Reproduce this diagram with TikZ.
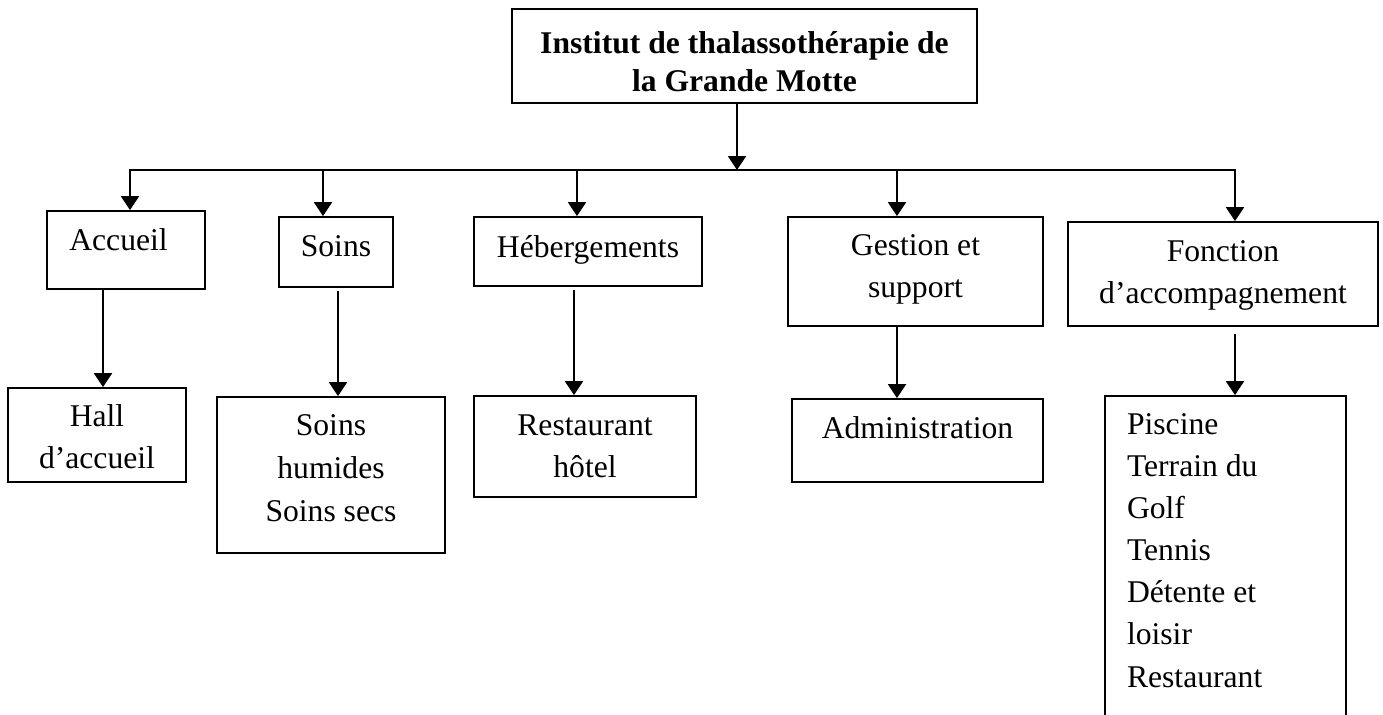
\documentclass[tikz,border=0pt]{standalone}
\usepackage{fontspec}
\setmainfont{Liberation Serif}
\usetikzlibrary{arrows.meta}
\tikzset{
  box/.style={draw,line width=1pt,align=center,inner sep=0pt,font=\fontsize{18}{23.5}\selectfont},
  head/.style={box,font=\fontsize{18}{22}\selectfont\bfseries},
  arr/.style={-{Triangle[length=0.28cm,width=0.36cm]},line width=1.1pt},
  rail/.style={line width=1.1pt,line cap=rect},
}

\begin{document}
\begin{tikzpicture}[x=0.02cm,y=-0.02cm]
\useasboundingbox (0,0) rectangle (1383,714);
% top of the chart
\node[head, minimum width=9.3cm, minimum height=1.88cm, text height=1.66cm, text depth=0.22cm] (titre) at (744.5,56) {Institut de thalassothérapie de\\la Grande Motte};
% services
\node[box, minimum width=3.16cm, minimum height=1.56cm, text height=0.78cm, text depth=0.78cm] (accueil) at (126,250) {Accueil\hspace{0.3cm}};
\node[box, minimum width=2.28cm, minimum height=1.4cm, text height=0.78cm, text depth=0.62cm] (soins) at (336,252) {Soins};
\node[box, minimum width=4.56cm, minimum height=1.38cm, text height=0.8cm, text depth=0.58cm] (heberg) at (588,251.5) {Hébergements};
\node[box, minimum width=5.1cm, minimum height=2.18cm, text height=1.6cm, text depth=0.58cm] (gestion) at (915.5,271.5) {Gestion et\\support};
\node[box, minimum width=6.2cm, minimum height=2.08cm, text height=1.62cm, text depth=0.46cm] (fonction) at (1223,274) {Fonction\\d’accompagnement};
% spaces under each service
\node[box, minimum width=3.56cm, minimum height=1.88cm, text height=1.6cm, text depth=0.28cm] (hall) at (97,435) {Hall\\d’accueil};
\node[box, minimum width=4.56cm, minimum height=3.12cm, text height=2.5cm, text depth=0.62cm, font=\fontsize{18}{24.5}\selectfont] (humides) at (331,475) {Soins\\humides\\Soins secs};
\node[box, minimum width=4.44cm, minimum height=2.02cm, text height=1.62cm, text depth=0.4cm] (resto) at (585,446.5) {Restaurant\\hôtel};
\node[box, minimum width=5.02cm, minimum height=1.66cm, text height=0.78cm, text depth=0.88cm] (admin) at (917.5,440.5) {Administration};
\node[box, align=flush left, text width=3.94cm, inner xsep=0.44cm, minimum height=6.68cm, text height=0.76cm, text depth=5.92cm, font=\fontsize{18}{24}\selectfont] (loisirs) at (1225.5,563) {Piscine\\Terrain du\\Golf\\Tennis\\Détente et\\loisir\\Restaurant};

\coordinate (bus) at (737,170);
\draw[arr] (titre.south -| bus) -- (bus);
\draw[rail] (bus -| 130,0) -- (bus -| 1235,0);
\draw[arr] (bus -| 130,0) -- (accueil.north -| 130,0);
\draw[arr] (bus -| 323,0) -- (soins.north -| 323,0);
\draw[arr] (bus -| 577,0) -- (heberg.north -| 577,0);
\draw[arr] (bus -| 897,0) -- (gestion.north -| 897,0);
\draw[arr] (bus -| 1235,0) -- (fonction.north -| 1235,0);

\draw[arr] (accueil.south -| 103,0) -- (hall.north -| 103,0);
\draw[arr, shorten <=2pt] (soins.south -| 338,0) -- (humides.north -| 338,0);
\draw[arr, shorten <=2pt] (heberg.south -| 574,0) -- (resto.north -| 574,0);
\draw[arr] (gestion.south -| 897,0) -- (admin.north -| 897,0);
\draw[arr, shorten <=4pt] (fonction.south -| 1235,0) -- (loisirs.north -| 1235,0);
\end{tikzpicture}
\end{document}
